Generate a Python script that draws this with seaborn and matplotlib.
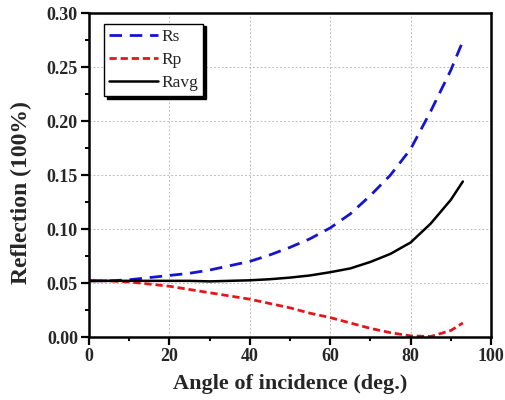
import numpy as np
import pandas as pd
import matplotlib
matplotlib.use("Agg")
import matplotlib.pyplot as plt
import seaborn as sns

angle = [0, 5, 10, 15, 20, 25, 30, 35, 40, 45, 50, 55, 60, 65, 70, 75, 80, 85, 90, 93]
rs = [0.052, 0.052, 0.053, 0.055, 0.057, 0.059, 0.062, 0.066, 0.070, 0.076, 0.083, 0.091,
      0.101, 0.114, 0.131, 0.150, 0.174, 0.209, 0.247, 0.274]
rp = [0.052, 0.052, 0.051, 0.049, 0.047, 0.044, 0.041, 0.038, 0.035, 0.031, 0.027, 0.022,
      0.018, 0.013, 0.008, 0.004, 0.001, 0.0005, 0.006, 0.013]
ravg = [0.052, 0.052, 0.052, 0.052, 0.052, 0.052, 0.0515, 0.052, 0.0525, 0.0535, 0.055, 0.057,
        0.060, 0.0635, 0.0695, 0.077, 0.0875, 0.105, 0.127, 0.144]
series_names = ["Rs", "Rp", "Ravg"]
xticks = [0, 20, 40, 60, 80, 100]
yticks = [0.00, 0.05, 0.10, 0.15, 0.20, 0.25, 0.30]

sns.set_theme(style="white")
plt.rcParams["font.family"] = ["Liberation Serif", "DejaVu Serif"]

fig = plt.figure(figsize=(5.06, 4.00), dpi=100)
ax = fig.add_axes([89/506, 1 - 337/400, 402/506, 324/400])

df = pd.DataFrame({"angle": angle, "Rs": rs, "Rp": rp, "Ravg": ravg})
styles = {
    "Rs": dict(color="#1414d2", dashes=(4.5, 2.8), lw=2.0),
    "Rp": dict(color="#e8141c", dashes=(2.6, 1.4), lw=2.0),
    "Ravg": dict(color="black", dashes=None, lw=1.8),
}
for name in series_names:
    st = styles[name]
    line_kw = dict(color=st["color"], linewidth=st["lw"])
    sns.lineplot(data=df, x="angle", y=name, ax=ax, label=name, **line_kw)
    ln = ax.get_lines()[-1]
    if st["dashes"] is not None:
        ln.set_dashes(st["dashes"])

ax.set_xlim(0, 100)
ax.set_ylim(0, 0.30)
ax.set_xticks(xticks)
ax.set_yticks(yticks)
ax.set_xticklabels([str(t) for t in xticks], fontweight="bold", fontsize=13)
ax.set_yticklabels([f"{t:.2f}" for t in yticks], fontweight="bold", fontsize=13)
ax.set_xticks([10, 30, 50, 70, 90], minor=True)
ax.set_yticks([0.025, 0.075, 0.125, 0.175, 0.225, 0.275], minor=True)
ax.tick_params(which="major", direction="out", length=6, width=1.6, color="black",
               bottom=True, left=True, pad=2)
ax.tick_params(which="minor", direction="out", length=3, width=1.4, color="black",
               bottom=True, left=True)
ax.grid(True, which="major", color="#bdbdbd", linestyle=(0, (2, 2)), linewidth=0.7)
for sp in ax.spines.values():
    sp.set_color("black")
    sp.set_linewidth(1.8)
    sp.set_visible(True)

ax.set_xlabel("Angle of incidence (deg.)", fontsize=16, fontweight="bold")
ax.set_ylabel("Reflection (100%)", fontsize=17, fontweight="bold")
ax.xaxis.set_label_coords(0.5, -0.115)
ax.yaxis.set_label_coords(-0.142, 0.445)

leg = ax.legend(loc="upper left", bbox_to_anchor=(0.037, 0.967), fontsize=12.5,
                frameon=True, fancybox=False, edgecolor="black",
                shadow={"color": "black", "alpha": 1.0},
                handlelength=2.8, handletextpad=0.2, labelspacing=0.4,
                borderpad=0.3, borderaxespad=0)
leg.get_frame().set_linewidth(1.0)
leg.get_frame().set_alpha(1.0)

fig.savefig("out.png", dpi=100)
